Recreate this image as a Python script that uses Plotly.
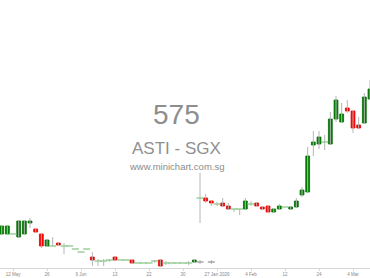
import plotly.graph_objects as go

# ---- data (prices) ----
idx = list(range(66))
opens = [0.0066, 0.0066, 0.0066, 0.0063, 0.0066, 0.0077, 0.0071, 0.0066, 0.0054, 0.0054,
         0.0057, 0.0054, 0.0054, 0.0051, 0.0048, 0.0051, 0.0043, 0.0039, 0.0039, 0.0040,
         0.0043, 0.0040, 0.0040, 0.0040, 0.0037, 0.0037, 0.0037, 0.0039, 0.0040, 0.0037,
         0.0037, 0.0037, 0.0037, 0.0037, 0.0038,
         0.0102, 0.0102, 0.0099, 0.0096, 0.0097, 0.0094, 0.0091, 0.0091, 0.0091, 0.0096,
         0.0097, 0.0093, 0.0094, 0.0088, 0.0091, 0.0093, 0.0091, 0.0093, 0.0105, 0.0108,
         0.0155, 0.0156, 0.0158, 0.0156, 0.0181, 0.0178, 0.0192, 0.0189, 0.0175, 0.0177,
         0.0201]
highs = [0.0074, 0.0074, 0.0066, 0.0079, 0.0079, 0.0082, 0.0071, 0.0066, 0.0060, 0.0063,
         0.0057, 0.0057, 0.0054, 0.0051, 0.0048, 0.0051, 0.0048, 0.0041, 0.0041, 0.0041,
         0.0043, 0.0040, 0.0040, 0.0040, 0.0037, 0.0037, 0.0037, 0.0040, 0.0040, 0.0039,
         0.0037, 0.0037, 0.0037, 0.0039, 0.0040,
         0.0127, 0.0106, 0.0099, 0.0098, 0.0102, 0.0097, 0.0091, 0.0091, 0.0102, 0.0099,
         0.0097, 0.0093, 0.0094, 0.0091, 0.0096, 0.0093, 0.0093, 0.0102, 0.0113, 0.0153,
         0.0169, 0.0169, 0.0165, 0.0188, 0.0204, 0.0197, 0.0200, 0.0189, 0.0183, 0.0207,
         0.0220]
lows = [0.0066, 0.0066, 0.0066, 0.0063, 0.0066, 0.0072, 0.0068, 0.0052, 0.0054, 0.0054,
        0.0055, 0.0046, 0.0054, 0.0051, 0.0048, 0.0051, 0.0034, 0.0034, 0.0034, 0.0038,
        0.0040, 0.0040, 0.0040, 0.0037, 0.0037, 0.0037, 0.0037, 0.0037, 0.0034, 0.0035,
        0.0037, 0.0037, 0.0037, 0.0035, 0.0038,
        0.0077, 0.0097, 0.0094, 0.0094, 0.0094, 0.0090, 0.0088, 0.0085, 0.0091, 0.0094,
        0.0094, 0.0091, 0.0088, 0.0088, 0.0091, 0.0093, 0.0091, 0.0093, 0.0103, 0.0108,
        0.0144, 0.0151, 0.0150, 0.0156, 0.0178, 0.0178, 0.0187, 0.0167, 0.0172, 0.0177,
        0.0201]
closes = [0.0074, 0.0074, 0.0066, 0.0079, 0.0079, 0.0079, 0.0068, 0.0054, 0.0060, 0.0054,
          0.0055, 0.0054, 0.0054, 0.0051, 0.0048, 0.0051, 0.0040, 0.0039, 0.0039, 0.0040,
          0.0040, 0.0040, 0.0040, 0.0037, 0.0037, 0.0037, 0.0037, 0.0039, 0.0034, 0.0037,
          0.0037, 0.0037, 0.0037, 0.0037, 0.0040,
          0.0102, 0.0099, 0.0097, 0.0096, 0.0094, 0.0091, 0.0091, 0.0091, 0.0099, 0.0096,
          0.0094, 0.0091, 0.0088, 0.0091, 0.0094, 0.0093, 0.0093, 0.0099, 0.0110, 0.0144,
          0.0158, 0.0163, 0.0158, 0.0181, 0.0200, 0.0186, 0.0189, 0.0172, 0.0172, 0.0203,
          0.0211]

# small pre-suspension marks at the bottom
extra_x = [35, 37]
extra_price = [0.0038, 0.0038]
extra_high = [0.0040, 0.0040]
extra_low = [0.0036, 0.0036]

tick_pos = [2, 8, 14, 20, 26, 32, 38, 44, 50, 56, 62]
tick_labels = ["12 May", "26", "9 Jun", "13", "22", "30", "27 Jan 2026", "4 Feb", "12", "24", "4 Mar"]

UP_FILL, UP_LINE = "#008000", "#006a00"
DN_FILL, DN_LINE = "#ff0000", "#e00000"

# ---- build traces ----
wx, wy = [], []
for i, h, l in zip(idx, highs, lows):
    if h != l:
        wx += [i, i, None]
        wy += [l, h, None]
for i, h, l in zip(extra_x, extra_high, extra_low):
    wx += [i, i, None]
    wy += [l, h, None]

bx, bbase, bh, bfill, bline = [], [], [], [], []
dx, dy = [], []
for i, o, c in zip(idx, opens, closes):
    if o == c:
        dx.append(i); dy.append(o)
    else:
        bx.append(i)
        bbase.append(min(o, c))
        bh.append(abs(c - o))
        bfill.append(UP_FILL if c > o else DN_FILL)
        bline.append(UP_LINE if c > o else DN_LINE)

fig = go.Figure()
fig.add_trace(go.Scatter(x=wx, y=wy, mode="lines", line=dict(color="#b5b5b5", width=1),
                         hoverinfo="skip", showlegend=False))
fig.add_trace(go.Bar(x=bx, y=bh, base=bbase, width=0.68,
                     marker=dict(color=bfill, line=dict(color=bline, width=0.8)),
                     showlegend=False))
fig.add_trace(go.Scatter(x=dx, y=dy, mode="markers",
                         marker=dict(symbol="line-ew", size=5,
                                     line=dict(color="#8cc88c", width=1.3)),
                         showlegend=False))
fig.add_trace(go.Scatter(x=extra_x, y=extra_price, mode="markers",
                         marker=dict(symbol="line-ew", size=5,
                                     line=dict(color="#999999", width=1.3)),
                         showlegend=False))

for txt, yy, size, col in [("575", 0.571, 28, "#8e8e8e"),
                           ("ASTI - SGX", 0.446, 17, "#909090"),
                           ("www.minichart.com.sg", 0.377, 9.5, "#8c8c8c")]:
    fig.add_annotation(text=txt, x=0.478, y=yy, xref="paper", yref="paper",
                       xanchor="center", yanchor="middle", showarrow=False,
                       font=dict(family="Liberation Sans, Arial", size=size, color=col))

fig.update_layout(
    width=370, height=278,
    margin=dict(l=0, r=0, t=0, b=10),
    paper_bgcolor="white", plot_bgcolor="white",
    showlegend=False, barmode="overlay",
    font=dict(family="Liberation Sans, Arial"),
    xaxis=dict(range=[-0.3, 65.0],
               tickmode="array", tickvals=tick_pos, ticktext=tick_labels,
               tickfont=dict(size=4.5, color="#888"),
               showgrid=False, zeroline=False, showline=True, linecolor="#d6d6d6",
               ticks="outside", ticklen=2, tickcolor="#d6d6d6"),
    yaxis=dict(range=[0.0032, 0.0300], visible=False, showgrid=False, zeroline=False),
)

fig.write_html("out.html")
